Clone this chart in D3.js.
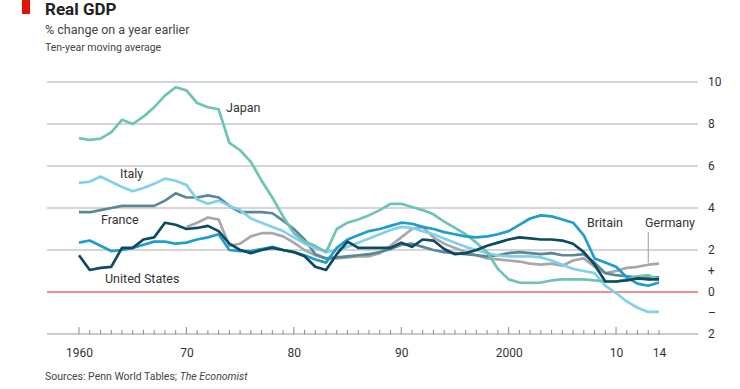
<!DOCTYPE html>
<html>
<head>
<meta charset="utf-8">
<script src="https://cdn.jsdelivr.net/npm/d3@7"></script>
<style>
  body { margin: 0; background: #fff; }
  svg { display: block; font-family: Roboto, "Noto Sans", sans-serif; }
</style>
</head>
<body>
<div id="chart"></div>
<script>
// years 1960..2014
var years = d3.range(1960, 2015);

var japan = [7.33, 7.24, 7.3, 7.6, 8.2, 8.0, 8.35, 8.8, 9.35, 9.75,
  9.6, 9.0, 8.8, 8.7, 7.1, 6.75, 6.2, 5.3, 4.5, 3.6,
  2.8, 2.4, 2.2, 1.9, 3.0, 3.3, 3.45, 3.65, 3.9, 4.2,
  4.2, 4.05, 3.9, 3.7, 3.35, 3.05, 2.75, 2.35, 1.9, 1.1,
  0.6, 0.45, 0.43, 0.45, 0.55, 0.6, 0.6, 0.6, 0.55, 0.5,
  0.5, 0.6, 0.75, 0.8, 0.6];

var italy = [5.2, 5.25, 5.5, 5.25, 5.0, 4.8, 4.95, 5.15, 5.4, 5.3,
  5.1, 4.4, 4.2, 4.35, 4.1, 3.9, 3.5, 3.3, 3.1, 2.9,
  2.6, 2.3, 2.1, 1.9, 2.0, 2.15, 2.35, 2.55, 2.75, 2.95,
  3.1, 3.05, 2.9, 2.75, 2.55, 2.35, 2.15, 2.0, 1.85, 1.75,
  1.7, 1.7, 1.7, 1.65, 1.5, 1.3, 1.1, 1.0, 0.9, 0.3,
  -0.05, -0.45, -0.75, -0.95, -0.95];

var france = [3.8, 3.8, 3.9, 4.0, 4.1, 4.1, 4.1, 4.1, 4.35, 4.7,
  4.5, 4.5, 4.6, 4.5, 4.1, 3.8, 3.8, 3.8, 3.75, 3.4,
  3.0, 2.5, 1.8, 1.6, 1.65, 1.7, 1.75, 1.8, 1.9, 2.05,
  2.25, 2.3, 2.15, 2.0, 1.9, 1.85, 1.8, 1.75, 1.7, 1.75,
  1.85, 1.9, 1.85, 1.8, 1.85, 1.75, 1.75, 1.8, 1.4, 0.9,
  0.8, 0.75, 0.7, 0.7, 0.7];

var germany = [null, null, null, null, null, null, null, null, null, null,
  3.1, 3.3, 3.55, 3.45, 2.2, 2.3, 2.65, 2.8, 2.8, 2.65,
  2.35, 2.0, 1.75, 1.6, 1.6, 1.65, 1.7, 1.7, 1.85, 2.2,
  2.6, 3.0, 3.1, 2.6, 2.3, 2.1, 1.9, 1.75, 1.6, 1.55,
  1.5, 1.45, 1.35, 1.3, 1.35, 1.25, 1.5, 1.6, 1.2, 0.9,
  1.0, 1.15, 1.2, 1.3, 1.35];

var unitedStates = [1.75, 1.05, 1.15, 1.2, 2.1, 2.1, 2.5, 2.6, 3.3, 3.2,
  3.0, 3.05, 3.15, 2.9, 2.3, 2.0, 1.85, 2.0, 2.1, 2.0,
  1.9, 1.7, 1.2, 1.05, 1.8, 2.4, 2.1, 2.1, 2.1, 2.1,
  2.35, 2.15, 2.5, 2.45, 2.05, 1.8, 1.85, 2.0, 2.2, 2.35,
  2.5, 2.6, 2.55, 2.5, 2.5, 2.45, 2.3, 1.9, 1.3, 0.5,
  0.5, 0.55, 0.65, 0.6, 0.6];

var britain = [2.35, 2.45, 2.2, 1.95, 2.0, 2.1, 2.25, 2.4, 2.4, 2.3,
  2.35, 2.5, 2.6, 2.75, 2.0, 1.95, 1.95, 2.05, 2.15, 2.0,
  1.9, 1.75, 1.55, 1.4, 2.1, 2.5, 2.7, 2.9, 3.0, 3.15,
  3.3, 3.25, 3.1, 3.0, 2.85, 2.75, 2.65, 2.6, 2.65, 2.75,
  2.9, 3.2, 3.5, 3.65, 3.6, 3.45, 3.3, 2.7, 1.6, 1.4,
  1.2, 0.7, 0.4, 0.3, 0.45];

var gridValues = [10, 8, 6, 4, 2];
var yTickValues = [10, 8, 6, 4, 2, 1, 0, -1, -2];
var yTickLabels = ["10", "8", "6", "4", "2", "+", "0", "\u2013", "2"];
var xLabelYears = [1960, 1970, 1980, 1990, 2000, 2010, 2014];
var xLabels = ["1960", "70", "80", "90", "2000", "10", "14"];

var series = [
  {name: "Germany", values: germany, color: "#a7a7ac"},
  {name: "France", values: france, color: "#5b8797"},
  {name: "Italy", values: italy, color: "#82d0ea"},
  {name: "Japan", values: japan, color: "#6fc3b5"},
  {name: "Britain", values: britain, color: "#1f9dcc"},
  {name: "United States", values: unitedStates, color: "#0e4a60"}
];

var width = 740, height = 389;
var left = 47, right = 698;

var x = d3.scaleLinear().domain([1960, 2014]).range([79, 659]);
var y = d3.scaleLinear().domain([-2, 10]).range([334, 82]);

var svg = d3.select("#chart").append("svg")
  .attr("width", width)
  .attr("height", height);

// header
svg.append("rect").attr("x", 22).attr("y", 0).attr("width", 8).attr("height", 14)
  .attr("fill", "#e3120b");
svg.append("text").attr("x", 45).attr("y", 15)
  .attr("font-size", 17).attr("font-weight", "bold").attr("fill", "#222")
  .text("Real GDP");
svg.append("text").attr("x", 45).attr("y", 34)
  .attr("font-size", 12.5).attr("fill", "#444")
  .text("% change on a year earlier");
svg.append("text").attr("x", 45).attr("y", 51)
  .attr("font-size", 10.5).attr("fill", "#444")
  .text("Ten-year moving average");

// gridlines
svg.selectAll(".grid").data(gridValues).enter().append("line")
  .attr("class", "grid")
  .attr("x1", left).attr("x2", right)
  .attr("y1", function (v) { return y(v); })
  .attr("y2", function (v) { return y(v); })
  .attr("stroke", "#c9c9c9").attr("stroke-width", 1.6);

// bottom axis line (-2)
svg.append("line")
  .attr("x1", left).attr("x2", right)
  .attr("y1", y(-2)).attr("y2", y(-2))
  .attr("stroke", "#9a9a9a").attr("stroke-width", 1.2);

// year ticks, pointing up
svg.selectAll(".ytick").data(years).enter().append("line")
  .attr("class", "ytick")
  .attr("x1", function (d) { return x(d); })
  .attr("x2", function (d) { return x(d); })
  .attr("y1", y(-2))
  .attr("y2", function (d) { return y(-2) - (d % 10 === 0 ? 7 : 4); })
  .attr("stroke", "#8a8a8a").attr("stroke-width", 1);

// x labels
var xAxis = d3.axisBottom(x)
  .tickValues(xLabelYears)
  .tickSize(0)
  .tickPadding(0)
  .tickFormat(function (d, i) { return xLabels[i]; });

svg.append("g")
  .attr("transform", "translate(0," + 348 + ")")
  .call(xAxis)
  .call(function (g) { g.select(".domain").remove(); })
  .selectAll("text")
  .attr("font-family", "Roboto, 'Noto Sans', sans-serif")
  .attr("font-size", 12)
  .attr("fill", "#333");

// right-hand y labels
svg.selectAll(".ylab").data(yTickValues).enter().append("text")
  .attr("class", "ylab")
  .attr("x", 708)
  .attr("y", function (v) { return y(v); })
  .attr("dy", "0.36em")
  .attr("font-size", 12).attr("fill", "#333")
  .text(function (v, i) { return yTickLabels[i]; });

// zero line
svg.append("line")
  .attr("x1", left).attr("x2", right)
  .attr("y1", y(0)).attr("y2", y(0))
  .attr("stroke", "#ec6a6a").attr("stroke-width", 1.4);

// lines
var line = d3.line()
  .defined(function (d) { return d != null; })
  .x(function (d, i) { return x(years[i]); })
  .y(function (d) { return y(d); });

svg.selectAll(".series").data(series).enter().append("path")
  .attr("class", "series")
  .attr("d", function (s) { return line(s.values); })
  .attr("fill", "none")
  .attr("stroke", function (s) { return s.color; })
  .attr("stroke-width", 2.7)
  .attr("stroke-linejoin", "round");

// labels
var labels = [
  {text: "Japan", x: 226, y: 112},
  {text: "Italy", x: 120, y: 178},
  {text: "France", x: 101, y: 224},
  {text: "United States", x: 105, y: 283},
  {text: "Britain", x: 587, y: 227},
  {text: "Germany", x: 645, y: 227}
];
svg.selectAll(".lab").data(labels).enter().append("text")
  .attr("class", "lab")
  .attr("x", function (d) { return d.x; })
  .attr("y", function (d) { return d.y; })
  .attr("font-size", 12.5).attr("fill", "#333")
  .text(function (d) { return d.text; });

// Germany leader
svg.append("line")
  .attr("x1", x(2013)).attr("x2", x(2013))
  .attr("y1", 232).attr("y2", y(germany[53]) - 2)
  .attr("stroke", "#999").attr("stroke-width", 1);

// source
var src = svg.append("text").attr("x", 45).attr("y", 380)
  .attr("font-size", 10.5).attr("fill", "#444");
src.append("tspan").text("Sources: Penn World Tables; ");
src.append("tspan").attr("font-style", "italic").text("The Economist");
</script>
</body>
</html>
